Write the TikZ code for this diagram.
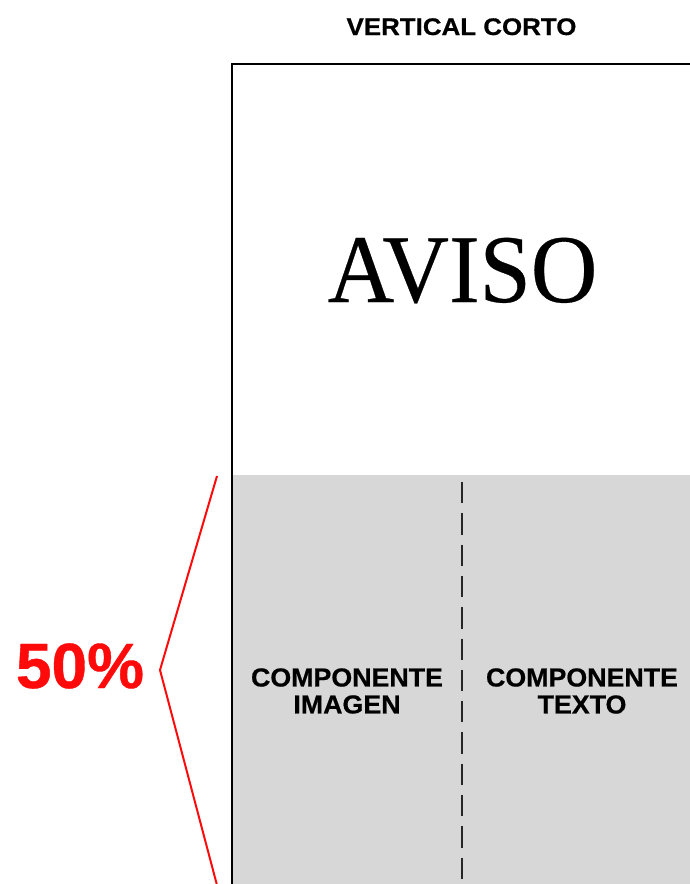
\documentclass[tikz,border=0pt]{standalone}
\usepackage{fontspec}
\newfontfamily\titlefont[FakeStretch=1.08,FakeBold=0.6]{Liberation Sans Bold}
\newfontfamily\labelfont[FakeStretch=1.03,FakeBold=0.6]{Liberation Sans Bold}
\newfontfamily\pctfont[FakeBold=0.6]{Liberation Sans Bold}
\newfontfamily\avisofont[FakeStretch=0.95,FakeBold=0.3]{Liberation Serif}
\definecolor{panelgray}{HTML}{D7D7D7}
\definecolor{markred}{HTML}{FF0A0A}
\tikzset{
  frameline/.style={draw=black, line width=1.4pt},
  splitline/.style={draw=black!85, line width=1.6pt, dash pattern=on 21.3pt off 10pt},
  bracketline/.style={draw=markred, line width=2pt, line join=miter},
  titletext/.style={inner sep=0pt, font={\titlefont\fontsize{24}{24}\selectfont}},
  avisotext/.style={inner sep=0pt, font={\avisofont\fontsize{97}{97}\selectfont}},
  pcttext/.style={inner sep=0pt, text=markred, font={\pctfont\fontsize{64}{64}\selectfont}},
  comptext/.style={inner sep=0pt, align=center, font={\labelfont\fontsize{26}{27}\selectfont}}
}
\begin{document}
\begin{tikzpicture}[x=1pt, y=-1pt]
\useasboundingbox (0,0) rectangle (690,884);
\clip (0,0) rectangle (690,884);
% gray lower panel
\fill[panelgray] (232,475) rectangle (720,920);
% frame (extends beyond the picture)
\draw[frameline] (232,920) -- (232,64) -- (720,64);
% dashed split
\coordinate (dtop) at (462,482);
\coordinate (dbot) at (462,930);
\draw[splitline] (dtop) -- (dbot);
% red bracket
\coordinate (btop) at (217,476);
\coordinate (btip) at (160,670);
\coordinate (bbot) at (222,904);
\draw[bracketline] (btop) -- (btip) -- (bbot);
% texts
\node[titletext, anchor=base] (title) at (461.5,35) {VERTICAL CORTO};
\node[avisotext, anchor=base] (aviso) at (462.5,302) {AVISO};
\node[pcttext, anchor=base] (pct) at (80,688) {50\%};
\node[comptext] (img) at (347,691) {COMPONENTE\\IMAGEN};
\node[comptext] (txt) at (582,691) {COMPONENTE\\TEXTO};
\end{tikzpicture}
\end{document}
